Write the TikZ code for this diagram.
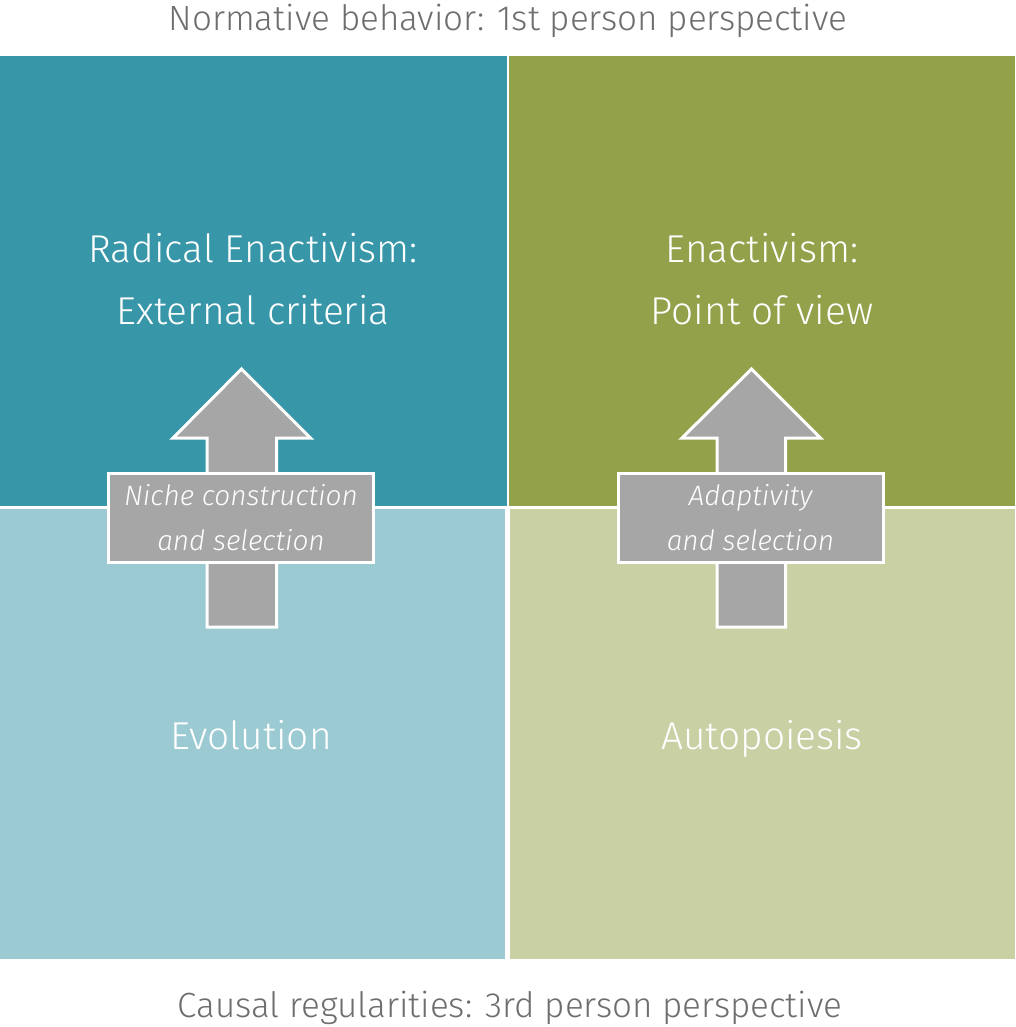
\documentclass[tikz,border=0pt]{standalone}
\usepackage{fontspec}
\setmainfont{Fira Sans}[UprightFont=* Light, ItalicFont=* Light Italic]
\definecolor{tealD}{HTML}{3796A8}
\definecolor{tealL}{HTML}{9BCAD2}
\definecolor{oliveD}{HTML}{93A24A}
\definecolor{oliveL}{HTML}{C8D0A4}
\definecolor{arrgray}{HTML}{A6A6A6}
\definecolor{titlegray}{HTML}{6E6E6E}
\tikzset{
  bigtext/.style={anchor=base, text=white, font=\fontsize{38.8}{48}\selectfont, inner sep=0pt},
  edgetext/.style={anchor=base, text=titlegray, font=\fontsize{35}{42}\selectfont, inner sep=0pt},
  uparrow/.style={fill=arrgray, draw=white, line width=3pt, line join=miter},
  labelbox/.style={fill=arrgray, draw=white, line width=3pt, minimum width=265pt, minimum height=89pt, inner sep=0pt, text=white, align=center, font=\fontsize{28}{45}\itshape\selectfont},
}
\begin{document}
\begin{tikzpicture}[x=1pt,y=-1pt]
\useasboundingbox (0,0) rectangle (1015,1027);
\fill[white] (0,0) rectangle (1015,1027);
% quadrants
\fill[tealD]  (0,56) rectangle (507,506);
\fill[oliveD] (509,56) rectangle (1015,506);
\fill[tealL]  (0,509) rectangle (505,959);
\fill[oliveL] (510,509) rectangle (1015,959);
% edge texts
\node[edgetext] (top) at (508,31) {Normative behavior: 1st person perspective};
\node[edgetext] (bottom) at (510,1017) {Causal regularities: 3rd person perspective};
% quadrant texts
\node[bigtext] (re1) at (253,262) {Radical Enactivism:};
\node[bigtext] (re2) at (253,324) {External criteria};
\node[bigtext] (en1) at (762,262) {Enactivism:};
\node[bigtext] (en2) at (762,324) {Point of view};
\node[bigtext] (evo) at (251,749) {Evolution};
\node[bigtext] (aut) at (762,749) {Autopoiesis};
% left arrow
\draw[uparrow] (241.5,369) -- (310.5,438) -- (276.5,438) -- (276.5,627) -- (207,627) -- (207,438) -- (173,438) -- cycle;
\node[labelbox] (nc) at (241,518) {Niche construction\\and selection};
% right arrow
\draw[uparrow] (751.5,369) -- (820.5,438) -- (785.5,438) -- (785.5,627) -- (717,627) -- (717,438) -- (682,438) -- cycle;
\node[labelbox] (ad) at (750.5,518) {Adaptivity\\and selection};
\end{tikzpicture}
\end{document}
